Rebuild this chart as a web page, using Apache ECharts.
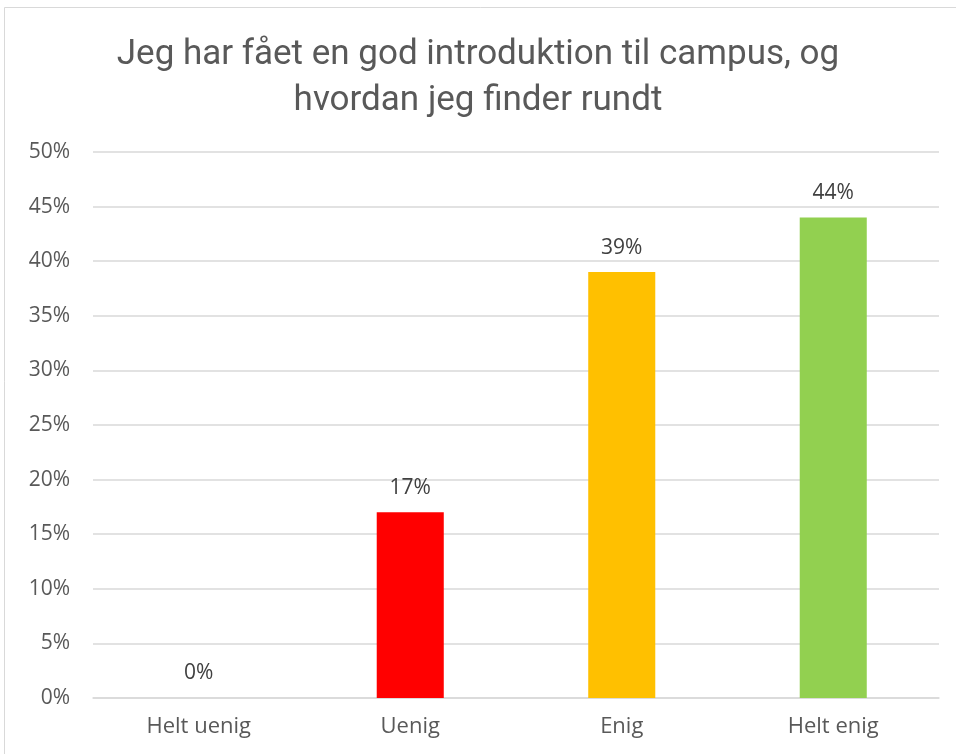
<!DOCTYPE html>
<html><head><meta charset="utf-8">
<script src="https://cdn.jsdelivr.net/npm/echarts@6/dist/echarts.min.js"></script>
<style>html,body{margin:0;padding:0;background:#fff}#c{width:956px;height:754px}</style>
</head><body><div id="c"></div>
<script>
const categories = ["Helt uenig", "Uenig", "Enig", "Helt enig"];
const values = [0, 17, 39, 44];
const colors = ["#FF0000", "#FF0000", "#FFC000", "#92D050"];
const titleText = "Jeg har fået en god introduktion til campus, og\nhvordan jeg finder rundt";

const chart = echarts.init(document.getElementById('c'));
chart.setOption({
  animation: false,
  backgroundColor: '#fff',
  graphic: [{type: 'rect', shape: {x: 4.5, y: 7.5, width: 1000, height: 1000}, style: {fill: 'none', stroke: '#d9d9d9', lineWidth: 1}}],
  title: {
    text: titleText, left: 'center', top: 27,
    textStyle: {fontFamily: 'Roboto, sans-serif', fontSize: 35, fontWeight: 'normal', color: '#595959', lineHeight: 46}
  },
  grid: {left: 93, right: 17, top: 152, bottom: 56},
  xAxis: {
    type: 'category', data: categories,
    axisLine: {show: true, lineStyle: {color: '#d9d9d9', width: 1.5}},
    axisTick: {show: false},
    axisLabel: {fontSize: 22, color: '#595959', margin: 18, fontFamily: 'Open Sans, sans-serif'}
  },
  yAxis: {
    type: 'value', min: 0, max: 50, interval: 5,
    axisLine: {show: false}, axisTick: {show: false},
    splitLine: {lineStyle: {color: '#d9d9d9', width: 1.5}},
    axisLabel: {formatter: '{value}%', fontSize: 21, color: '#595959', margin: 23, fontFamily: 'Open Sans, sans-serif'}
  },
  series: [{
    type: 'bar', barWidth: '31.7%',
    data: values.map((v, i) => ({value: v, itemStyle: {color: colors[i]}})),
    label: {show: true, position: 'top', distance: 14, formatter: '{c}%', fontSize: 21, color: '#404040', fontFamily: 'Open Sans, sans-serif'}
  }]
});
</script></body></html>
